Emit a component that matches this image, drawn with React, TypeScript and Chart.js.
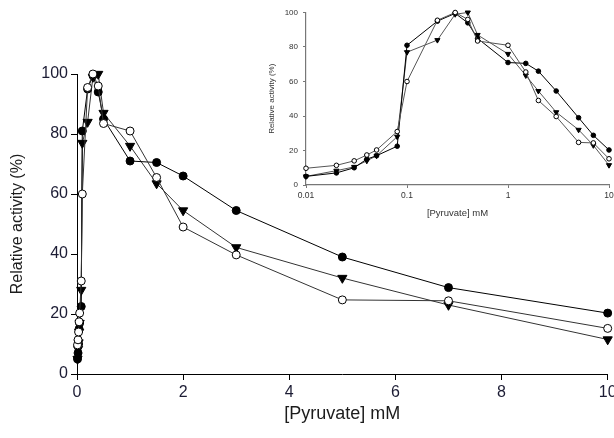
import React, { useEffect, useRef } from "react";
import { Chart, registerables } from "chart.js";

Chart.register(...registerables);

// Pyruvate concentrations (mM)
const conc = [0.01, 0.02, 0.03, 0.04, 0.05, 0.08, 0.1, 0.2, 0.3, 0.4, 0.5, 1, 1.5, 2, 3, 5, 7, 10];
// Relative activity (%) per series
const filledCircle = [5, 7, 10, 15, 17, 22.5, 81, 95, 99.5, 94, 85, 71, 70.5, 66, 54.5, 39, 28.8, 20.3];
const openCircle = [9.7, 11.4, 14, 17.4, 20.3, 31, 60, 95.5, 100, 96, 83.5, 81, 65.5, 49, 39.7, 24.7, 24.4, 15.2];
const triangleDown = [5, 8.3, 10.5, 14, 17, 28, 77, 84, 99, 100, 87, 76, 63.5, 54.5, 42.2, 32, 23, 11.5];

const mainXTicks = [0, 2, 4, 6, 8, 10];
const yTicks = [0, 20, 40, 60, 80, 100];
const insetXTicks = [0.01, 0.1, 1, 10];
const insetXLabels = ["0.01", "0.1", "1", "10"];

const FONT = "'Liberation Sans', Arial, sans-serif";

function pts(ys: number[]) {
  return conc.map((x, i) => ({ x, y: ys[i] }));
}

function makeDatasets(inset: boolean) {
  const r = inset ? 2.3 : 4;
  const rt = inset ? 3 : 5.3;
  const grey = inset ? "#555" : "#333";
  return [
    {
      label: "open",
      data: pts(openCircle),
      borderColor: grey,
      borderWidth: 1,
      pointStyle: "circle",
      pointRadius: r,
      pointBackgroundColor: "#fff",
      pointBorderColor: "#000",
      pointBorderWidth: 1,
      showLine: true,
      clip: false,
    },
    {
      label: "filled",
      data: pts(filledCircle),
      borderColor: "#000",
      borderWidth: 1,
      pointStyle: "circle",
      pointRadius: r,
      pointBackgroundColor: "#000",
      pointBorderColor: "#000",
      pointBorderWidth: 1,
      showLine: true,
      clip: false,
    },
    {
      label: "triangle",
      data: pts(triangleDown),
      borderColor: grey,
      borderWidth: 1,
      pointStyle: "triangle",
      rotation: 180,
      pointRotation: 180,
      pointRadius: rt,
      pointBackgroundColor: "#000",
      pointBorderColor: "#000",
      pointBorderWidth: 1,
      showLine: true,
      clip: false,
    },
  ];
}

export default function App() {
  const mainRef = useRef<HTMLCanvasElement | null>(null);
  const insetRef = useRef<HTMLCanvasElement | null>(null);

  useEffect(() => {
    const mainChart = new Chart(mainRef.current as HTMLCanvasElement, {
      type: "scatter",
      data: { datasets: makeDatasets(false) as any },
      options: {
        animation: false,
        responsive: false,
        devicePixelRatio: 1,
        layout: { padding: { left: 0, top: 74, right: 4, bottom: 0 } },
        plugins: { legend: { display: false }, tooltip: { enabled: false } },
        scales: {
          x: {
            type: "linear",
            min: 0,
            max: 10,
            afterBuildTicks: (s: any) => {
              s.ticks = mainXTicks.map((v) => ({ value: v }));
            },
            afterFit: (s: any) => {
              s.height = 64;
              s.paddingLeft = 0;
              s.paddingRight = 0;
            },
            grid: { drawOnChartArea: false, drawTicks: true, tickLength: 6, color: "#000" },
            border: { display: true, color: "#000", width: 1 },
            ticks: { color: "#1c1c34", font: { family: FONT, size: 16 }, padding: 3, maxRotation: 0 },
            title: {
              display: true,
              text: "[Pyruvate] mM",
              color: "#1c1c1c",
              font: { family: FONT, size: 18 },
              padding: { top: 0, bottom: 13 },
            },
          },
          y: {
            type: "linear",
            min: 0,
            max: 100,
            afterBuildTicks: (s: any) => {
              s.ticks = yTicks.map((v) => ({ value: v }));
            },
            afterFit: (s: any) => {
              s.width = 77;
              s.paddingTop = 0;
              s.paddingBottom = 0;
            },
            grid: { drawOnChartArea: false, drawTicks: true, tickLength: 6, color: "#000" },
            border: { display: true, color: "#000", width: 1 },
            ticks: { color: "#1c1c34", font: { family: FONT, size: 16 }, padding: 3 },
            title: {
              display: true,
              text: "Relative activity (%)",
              color: "#1c1c1c",
              font: { family: FONT, size: 16 },
              padding: { top: 8, bottom: 0 },
            },
          },
        },
      } as any,
    });

    const insetChart = new Chart(insetRef.current as HTMLCanvasElement, {
      type: "scatter",
      data: { datasets: makeDatasets(true) as any },
      options: {
        animation: false,
        responsive: false,
        devicePixelRatio: 1,
        layout: { padding: { left: 0, top: 12.5, right: 5, bottom: 0 } },
        plugins: { legend: { display: false }, tooltip: { enabled: false } },
        scales: {
          x: {
            type: "logarithmic",
            min: 0.01,
            max: 10,
            afterBuildTicks: (s: any) => {
              s.ticks = insetXTicks.map((v) => ({ value: v, major: true }));
            },
            afterFit: (s: any) => {
              s.height = 45;
              s.paddingLeft = 0;
              s.paddingRight = 0;
            },
            grid: { drawOnChartArea: false, drawTicks: true, tickLength: 3, color: "#777" },
            border: { display: true, color: "#777", width: 1.2 },
            ticks: {
              color: "#333",
              font: { family: FONT, size: 8.5 },
              padding: 3,
              maxRotation: 0,
              autoSkip: false,
              callback: (v: any) => {
                const i = insetXTicks.indexOf(Number(v));
                return i >= 0 ? insetXLabels[i] : "";
              },
            },
            title: {
              display: true,
              text: "[Pyruvate] mM",
              color: "#333",
              font: { family: FONT, size: 9.5 },
              padding: { top: 0, bottom: 11 },
            },
          },
          y: {
            type: "linear",
            min: 0,
            max: 100,
            afterBuildTicks: (s: any) => {
              s.ticks = yTicks.map((v) => ({ value: v }));
            },
            afterFit: (s: any) => {
              s.width = 46;
              s.paddingTop = 0;
              s.paddingBottom = 0;
            },
            grid: { drawOnChartArea: false, drawTicks: true, tickLength: 3, color: "#777" },
            border: { display: true, color: "#777", width: 1.2 },
            ticks: { color: "#333", font: { family: FONT, size: 8 }, padding: 5 },
            title: {
              display: true,
              text: "Relative activity (%)",
              color: "#333",
              font: { family: FONT, size: 8 },
              padding: { top: 7, bottom: 0 },
            },
          },
        },
      } as any,
    });

    return () => {
      mainChart.destroy();
      insetChart.destroy();
    };
  }, []);

  return (
    <div style={{ position: "absolute", left: 0, top: 0, width: 614, height: 438, background: "#fff" }}>
      <canvas
        ref={mainRef}
        width={614}
        height={438}
        style={{ position: "absolute", left: 0, top: 0, width: 614, height: 438 }}
      />
      <canvas
        ref={insetRef}
        width={354}
        height={230}
        style={{ position: "absolute", left: 260, top: 0, width: 354, height: 230 }}
      />
    </div>
  );
}
